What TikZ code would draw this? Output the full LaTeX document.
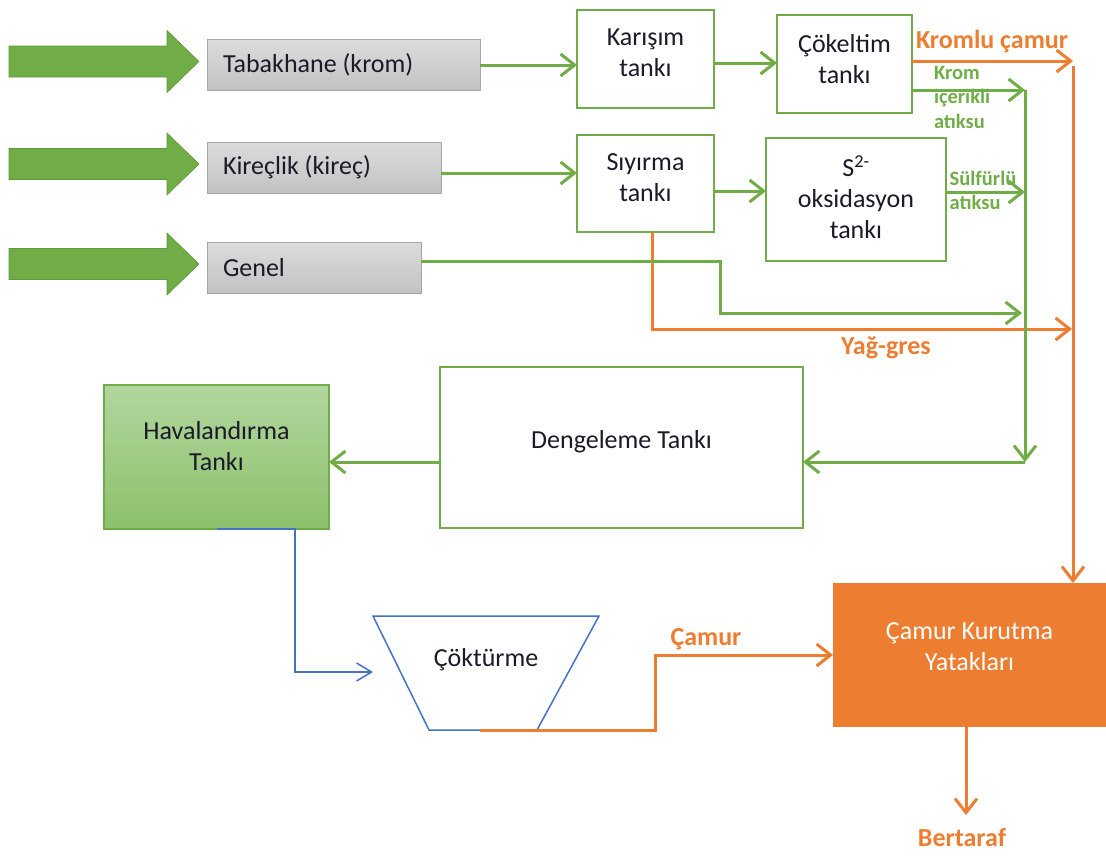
\documentclass[tikz,border=0pt]{standalone}
\usepackage{fontspec}
\setmainfont{Carlito}
\usetikzlibrary{arrows.meta}
\definecolor{grn}{HTML}{70AD47}
\definecolor{grnD}{HTML}{5E9A38}
\definecolor{org}{HTML}{ED7D31}
\definecolor{blu}{HTML}{4472C4}
\definecolor{srcT}{HTML}{DCDCDC}
\definecolor{srcB}{HTML}{C2C2C2}
\definecolor{srcD}{HTML}{A6A6A6}
\definecolor{hvT}{HTML}{B2D69E}
\definecolor{hvB}{HTML}{8CC16C}
\definecolor{ink}{HTML}{1A1A28}

\begin{document}
\begin{tikzpicture}[x=1pt,y=-1pt,
  every node/.style={inner sep=0pt, outer sep=0pt},
  txt/.style={font=\fontsize{26}{31}\selectfont, text=ink, align=center},
  source/.style={draw=srcD, line width=1pt, top color=srcT, bottom color=srcB,
    font=\fontsize{26}{31}\selectfont, text=ink, align=flush left,
    inner xsep=16pt, minimum height=51pt, anchor=west},
  tank/.style={draw=grn, line width=1.5pt, fill=white},
  olabel/.style={font=\bfseries\fontsize{26}{31}\selectfont, text=org},
  glabel/.style={font=\bfseries\fontsize{20.5}{24.5}\selectfont, text=grn, align=flush left},
  flowG/.style={draw=grn, line width=3pt, -{Straight Barb[length=14pt,width=22pt]}},
  flowO/.style={draw=org, line width=3pt, -{Straight Barb[length=14pt,width=22pt]}},
  flowB/.style={draw=blu, line width=1.5pt, -{Straight Barb[length=15pt,width=18pt]}},
  lineO/.style={draw=org, line width=3pt}
]
\useasboundingbox (0,0) rectangle (1106,855);

% incoming block arrows
\foreach \yc in {61.5,164,264}
  \filldraw[fill=grn, draw=grnD, line width=0.6pt]
    (9,{\yc-15.5}) -- (167,{\yc-15.5}) -- (167,{\yc-31}) -- (199,\yc)
    -- (167,{\yc+31}) -- (167,{\yc+15.5}) -- (9,{\yc+15.5}) -- cycle;

% sources
\node[source, text width=241pt] (tab) at (207,65) {Tabakhane (krom)};
\node[source, text width=202pt] (kir) at (207,167.5) {Kireçlik (kireç)};
\node[source, text width=182pt] (gen) at (207,267.5) {Genel};

% tanks
\node[tank, minimum width=137pt, minimum height=98pt] (kar) at (645.5,59) {};
\node[txt] (kar-t) at (645.5,53) {Karışım\\tankı};
\node[tank, minimum width=135pt, minimum height=98pt] (cok) at (844.5,64) {};
\node[txt] (cok-t) at (844.5,59) {Çökeltim\\tankı};
\node[tank, minimum width=137pt, minimum height=97pt] (siy) at (645.5,183.5) {};
\node[txt] (siy-t) at (645.5,178) {Sıyırma\\tankı};
\node[tank, minimum width=180pt, minimum height=123pt] (oks) at (856,199.5) {};
\node[txt] (oks-t) at (856,197.5) {S\textsuperscript{2-}\\oksidasyon\\tankı};
\node[tank, minimum width=363pt, minimum height=161pt] (den) at (621.5,447.5) {};
\node[txt] (den-t) at (621.5,442) {Dengeleme Tankı};
\node[draw=grn, line width=1.5pt, top color=hvT, bottom color=hvB,
      minimum width=225pt, minimum height=144pt] (hav) at (216.5,457) {};
\node[txt] (hav-t) at (216.5,446) {Havalandırma\\Tankı};
\node[fill=org, minimum width=273pt, minimum height=144pt] (cam) at (969.5,655) {};
\node[txt, text=white] (cam-t) at (969.5,647) {Çamur Kurutma\\Yatakları};

% settling cone
\coordinate (ctl) at (373,616);
\coordinate (ctr) at (599,616);
\coordinate (cbr) at (537,730);
\coordinate (cbl) at (429,730);
\draw[blu, line width=1.5pt] (cbl) -- (ctl) -- (ctr) -- (cbr) -- cycle;
\node[txt] (ckt) at (486,660) {Çöktürme};

% junction points
\coordinate (kromTip) at (1073,61);
\coordinate (oTop) at (1073,66);
\coordinate (gTop) at (1025,90);
\coordinate (sulf) at (1025,192);
\coordinate (gBot) at (1025,462);
\coordinate (genTip) at (1022,313);
\coordinate (yagTip) at (1072,329);
\coordinate (blueTip) at (373,672);
\coordinate (cktOut) at (480,730);
\coordinate (bertTip) at (966,815);

% orange streams
\draw[flowO] (cok.east |- kromTip) -- (kromTip);
\draw[flowO] (oTop) -- (oTop |- cam.north);
\draw[flowO] (652,0 |- siy.south) -- (652,329) -- (yagTip);

% green streams
\draw[flowG] (tab.east) -- (tab.east -| kar.west);
\draw[flowG] (kar.east |- 0,63) -- (cok.west |- 0,63);
\draw[flowG] (kir.east |- 0,173) -- (siy.west |- 0,173);
\draw[flowG] (siy.east |- 0,191) -- (oks.west |- 0,191);
\draw[flowG] (cok.east |- gTop) -- (gTop);
\draw[flowG] (oks.east |- sulf) -- (sulf);
\draw[flowG] (gen.east |- 0,261) -- (720,261) |- (genTip);
\draw[flowG] (gTop) -- (gBot);
\draw[flowG] (gBot) -- (den.east |- gBot);
\draw[flowG] (den.west |- gBot) -- (hav.east |- gBot);

% aeration to settling, sludge to drying beds
\draw[flowB] (hav.south) -- (295,0 |- hav.south) |- (blueTip);
\draw[flowO] (cktOut) -- (655,730) |- (cam.west);
\draw[flowO] (cam.south -| bertTip) -- (bertTip);

% stream labels
\node[olabel, anchor=west] (lkc) at (916,42) {Kromlu çamur};
\node[glabel, anchor=north west] (lkr) at (934,66) {Krom\\içerikli\\atıksu};
\node[glabel] (lsu) at (983,190.5) {Sülfürlü\\atıksu};
\node[olabel] (lyg) at (886,348) {Yağ-gres};
\node[olabel] (lcm) at (706,639) {Çamur};
\node[olabel] (lbt) at (962,838) {Bertaraf};
\end{tikzpicture}
\end{document}
